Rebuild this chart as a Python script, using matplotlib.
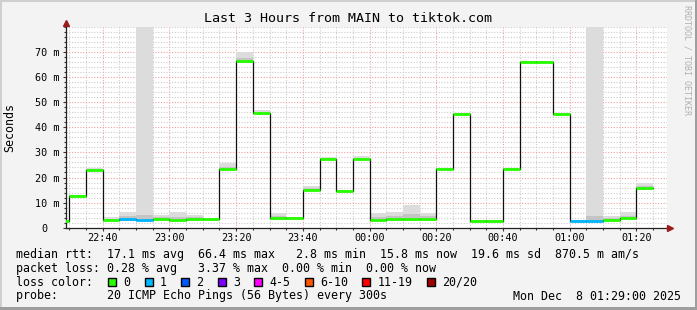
import matplotlib
matplotlib.use("Agg")
import matplotlib.pyplot as plt
from matplotlib.patches import Rectangle
from matplotlib.ticker import FixedLocator, FuncFormatter

# ── data (5 min samples, label = start of the 300 s step) ─────────
TIMES = ["22:25", "22:30", "22:35", "22:40", "22:45", "22:50", "22:55",
         "23:00", "23:05", "23:10", "23:15", "23:20", "23:25", "23:30",
         "23:35", "23:40", "23:45", "23:50", "23:55", "00:00", "00:05",
         "00:10", "00:15", "00:20", "00:25", "00:30", "00:35", "00:40",
         "00:45", "00:50", "00:55", "01:00", "01:05", "01:10", "01:15",
         "01:20"]
# median rtt in ms
MEDIAN = [2.8, 12.7, 23.1, 3.1, 3.6, 3.1, 3.6,
          3.1, 3.6, 3.6, 23.4, 66.4, 45.7, 4.0,
          3.9, 15.0, 27.5, 14.6, 27.5, 3.1, 3.5,
          3.5, 3.5, 23.4, 45.3, 2.8, 2.8, 23.4,
          66.0, 66.0, 45.3, 2.8, 2.8, 3.1, 3.9,
          15.8]
# lost pings out of 20
LOSS = [0, 0, 0, 0, 1, 1, 0,
        0, 0, 0, 0, 0, 0, 0,
        0, 0, 0, 0, 0, 0, 0,
        0, 0, 0, 0, 0, 0, 0,
        0, 0, 0, 1, 1, 0, 0,
        0]
# smoke (min / max of the single pings) in ms
SMOKE_LO = [2.6, 12.4, 22.8, 2.8, 2.8, 2.6, 3.0,
            2.8, 2.9, 3.3, 23.0, 65.6, 45.3, 3.2,
            3.5, 14.6, 27.1, 14.2, 27.0, 2.8, 3.0,
            3.0, 3.0, 23.0, 45.0, 2.6, 2.6, 23.0,
            66.0, 66.0, 45.0, 2.6, 2.6, 2.8, 3.5,
            15.2]
SMOKE_HI = [3.2, 13.0, 23.6, 4.1, 6.2, 100.0, 5.0,
            6.2, 4.9, 3.9, 25.6, 69.9, 46.8, 6.0,
            4.4, 16.6, 28.0, 15.0, 28.6, 6.0, 6.4,
            9.0, 6.0, 23.9, 45.8, 3.0, 3.0, 23.9,
            66.6, 66.6, 45.8, 3.0, 100.0, 4.6, 6.2,
            17.7]

LOSS_LABELS = ["0", "1", "2", "3", "4-5", "6-10", "11-19", "20/20"]
LOSS_COLORS = ["#26ff00", "#00b8ff", "#0059ff", "#7e00ff",
               "#ff00ff", "#ff5500", "#ff0000", "#a10000"]

Y_TICKS = [0, 10, 20, 30, 40, 50, 60, 70]
X_MAJOR = ["22:40", "23:00", "23:20", "23:40", "00:00", "00:20", "00:40",
           "01:00", "01:20"]
START, END = "22:29", "01:29"

TITLE = "Last 3 Hours from MAIN to tiktok.com"
ROW_RTT = ("median rtt:  17.1 ms avg  66.4 ms max   2.8 ms min"
           "  15.8 ms now  19.6 ms sd  870.5 m am/s")
ROW_LOSS = "packet loss: 0.28 % avg   3.37 % max  0.00 % min  0.00 % now"
ROW_PROBE = "probe:       20 ICMP Echo Pings (56 Bytes) every 300s"
STAMP = "Mon Dec  8 01:29:00 2025"


def to_min(t):
    h, m = map(int, t.split(":"))
    return (h - 22) % 24 * 60 + m


def fmt_min(v, pos=None):
    v = int(round(v))
    return f"{(22 + v // 60) % 24:02d}:{v % 60:02d}"


STEP = 5
x0 = [to_min(t) for t in TIMES]
x1 = [v + STEP for v in x0]
loss_col = [LOSS_COLORS[min(l, 3)] if l < 4 else LOSS_COLORS[4] for l in LOSS]

W, H = 697, 310
MONO = "DejaVu Sans Mono"
fig = plt.figure(figsize=(W / 100, H / 100), dpi=100)
fig.patch.set_facecolor("#f3f3f3")

ax = fig.add_axes([66 / W, 82.3 / H, 600.5 / W, 200.8 / H])
ax.set_facecolor("white")
ax.set_xlim(to_min(START), to_min(END))
ax.set_ylim(0, 80)

# grid
ax.xaxis.set_major_locator(FixedLocator([to_min(t) for t in X_MAJOR]))
ax.xaxis.set_minor_locator(FixedLocator(list(range(30, 210, 5))))
ax.yaxis.set_major_locator(FixedLocator(Y_TICKS))
ax.yaxis.set_minor_locator(FixedLocator(list(range(0, 82, 2))))
ax.grid(which="minor", color="#cccccc", lw=0.8, ls=(0, (1, 1.5)))
ax.grid(which="major", color="#f0a0a0", lw=0.8, ls=(0, (1, 1.5)))
ax.set_axisbelow(True)

ax.xaxis.set_major_formatter(FuncFormatter(fmt_min))
ax.set_yticklabels(["0  "] + [f"{v} m" for v in Y_TICKS[1:]])

for lab in ax.get_xticklabels() + ax.get_yticklabels():
    lab.set_family(MONO)
    lab.set_fontsize(7.3)
ax.tick_params(which="major", length=2.2, width=0.8, color="#333333", pad=2.2)
ax.tick_params(which="minor", length=1.1, width=0.8, color="#333333")
ax.tick_params(axis="x", pad=1.5)

for s in ["top", "right"]:
    ax.spines[s].set_visible(False)
for s in ["left", "bottom"]:
    ax.spines[s].set_color("#222222")
    ax.spines[s].set_linewidth(0.9)

# smoke
ax.bar(x0, [h - l for l, h in zip(SMOKE_LO, SMOKE_HI)], bottom=SMOKE_LO,
       width=STEP, align="edge", color="#dcdcdc", lw=0, zorder=2)
inner = [min(h, m + 0.4 * (h - m), m + 2.0) for m, h in zip(MEDIAN, SMOKE_HI)]
ax.bar(x0, [i - l for l, i in zip(SMOKE_LO, inner)], bottom=SMOKE_LO,
       width=STEP, align="edge", color="#c4c4c4", lw=0, zorder=2)

# median line
ax.plot(x0 + [x1[-1]], MEDIAN + [MEDIAN[-1]], drawstyle="steps-post",
        color="#111111", lw=0.9, zorder=3)
ax.hlines(MEDIAN, x0, x1, colors=loss_col, lw=2.0, zorder=4)

# axis arrows
ax.plot(0, 1.02, "^", transform=ax.transAxes, clip_on=False,
        color="#9c1c1c", ms=4, zorder=5)
ax.plot(1.006, 0, ">", transform=ax.transAxes, clip_on=False,
        color="#9c1c1c", ms=4, zorder=5)

# texts
fig.text(0.5, 1 - 19 / H, TITLE, ha="center", va="center",
         family=MONO, fontsize=9.6)
fig.text(10 / W, 1 - 127.5 / H, "Seconds", rotation=90, ha="center",
         va="center", family=MONO, fontsize=8.4)
fig.text(687.3 / W, 1 - 60 / H, "RRDTOOL / TOBI OETIKER", rotation=270,
         ha="center", va="center", family=MONO, fontsize=6, color="#b0b0b0")

CW = 7.02  # char width of legend font in px
LX = 16
fs = 8.4
fig.text(LX / W, 1 - 254.3 / H, ROW_RTT, va="center", family=MONO, fontsize=fs)
fig.text(LX / W, 1 - 268.3 / H, ROW_LOSS, va="center", family=MONO, fontsize=fs)
fig.text(LX / W, 1 - 282.3 / H, "loss color:", va="center", family=MONO,
         fontsize=fs)
fig.text(LX / W, 1 - 296 / H, ROW_PROBE, va="center", family=MONO, fontsize=fs)
fig.text(681 / W, 1 - 296 / H, STAMP, ha="right", va="center", family=MONO,
         fontsize=fs)

sx = LX + 13.15 * CW
for lab, col in zip(LOSS_LABELS, LOSS_COLORS):
    fig.patches.append(Rectangle((sx / W, 1 - 286.3 / H), 8 / W, 8 / H,
                                 transform=fig.transFigure, facecolor=col,
                                 edgecolor="black", lw=1.0))
    fig.text((sx + 15) / W, 1 - 282.3 / H, lab, va="center", family=MONO,
             fontsize=fs)
    sx += (4.2 + len(lab)) * CW

# frame
fig.patches.append(Rectangle((0, 0), 2 / W, 1, transform=fig.transFigure,
                             color="#cfcfcf", lw=0))
fig.patches.append(Rectangle((0, 1 - 2 / H), 1, 2 / H, transform=fig.transFigure,
                             color="#cfcfcf", lw=0))
fig.patches.append(Rectangle((1 - 2 / W, 0), 2 / W, 1, transform=fig.transFigure,
                             color="#9e9e9e", lw=0))
fig.patches.append(Rectangle((0, 0), 1, 3 / H, transform=fig.transFigure,
                             color="#9e9e9e", lw=0))

fig.savefig("out.png", dpi=100, facecolor=fig.get_facecolor())
